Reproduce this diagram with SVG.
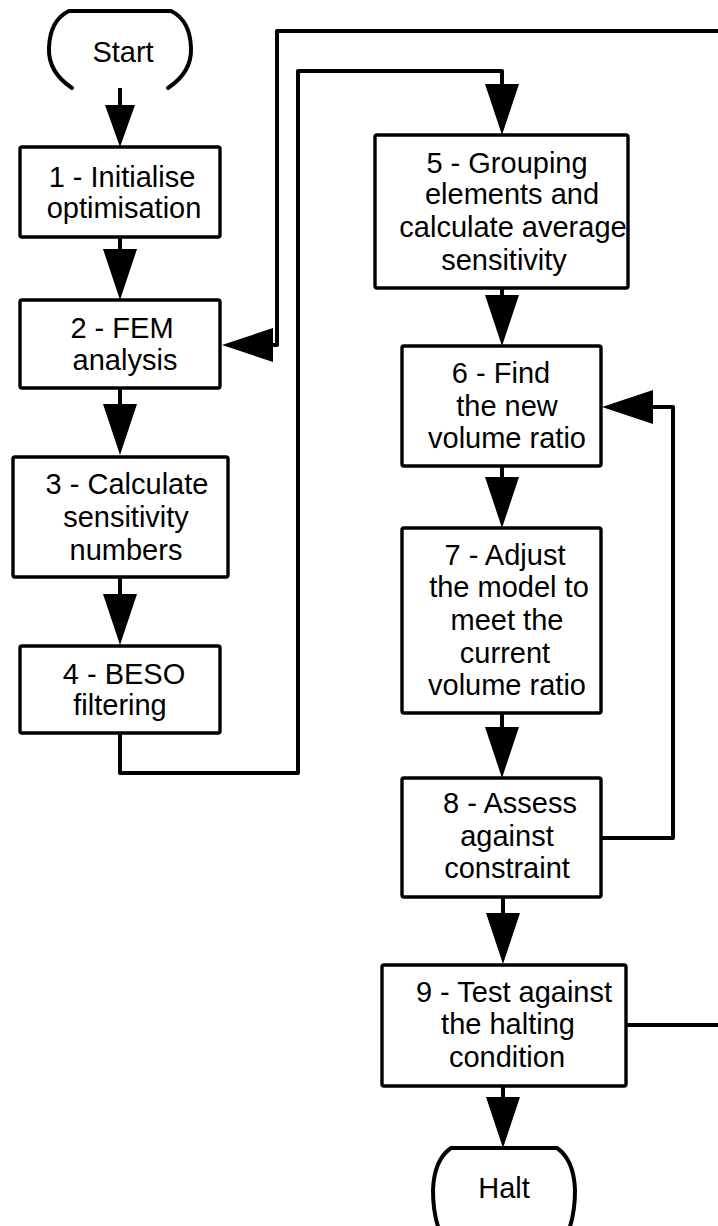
<svg xmlns="http://www.w3.org/2000/svg" width="718" height="1226" viewBox="0 0 718 1226">
<style>
.box{fill:#fff;stroke:#000;stroke-width:3.4}
.term{fill:none;stroke:#000;stroke-width:4;stroke-linecap:round;stroke-linejoin:round}
.lbl{font-family:"Liberation Sans",Arial,sans-serif;font-size:29px;fill:#000;text-anchor:middle}
.con{fill:none;stroke:#000;stroke-width:4;stroke-linejoin:round}
</style>
<defs>
<marker id="ah" markerUnits="userSpaceOnUse" markerWidth="52" markerHeight="36" refX="0" refY="17" orient="auto" overflow="visible">
<path d="M0,0 L51,17 L0,34 Z" fill="#000"/>
</marker>
<marker id="ahs" markerUnits="userSpaceOnUse" markerWidth="44" markerHeight="32" refX="0" refY="15" orient="auto" overflow="visible">
<path d="M0,0 L42,15 L0,30 Z" fill="#000"/>
</marker>
</defs>
<g id="connectors">
<path class="con" d="M120,88 L120,105" marker-end="url(#ahs)"/>
<path class="con" d="M120,237 L120,249" marker-end="url(#ah)"/>
<path class="con" d="M120,388 L120,404" marker-end="url(#ah)"/>
<path class="con" d="M120,577 L120,594" marker-end="url(#ah)"/>
<path class="con" d="M120,733 L120,773 L298,773 L298,71 L502,71 L502,84" marker-end="url(#ah)"/>
<path class="con" d="M502,288 L502,295" marker-end="url(#ah)"/>
<path class="con" d="M502,466 L502,477" marker-end="url(#ah)"/>
<path class="con" d="M502,713 L502,727" marker-end="url(#ah)"/>
<path class="con" d="M503,897 L503,913" marker-end="url(#ah)"/>
<path class="con" d="M503,1086 L503,1097" marker-end="url(#ah)"/>
<path class="con" d="M601,838 L673,838 L673,407 L653,407" marker-end="url(#ah)"/>
<path class="con" d="M626,1025 L740,1025 L740,31 L277,31 L277,345 L273,345" marker-end="url(#ah)"/>
</g>
<g id="start">
<path class="term" d="M72,88 Q48,72 49,48 Q50,20 69,11 L171,11 Q190,20 191,48 Q192,72 168,88"/>
<text class="lbl" x="123" y="62">Start</text>
</g>
<g id="n1">
<rect class="box" x="20" y="147" width="200" height="90" rx="2"/>
<text class="lbl"><tspan x="122" y="187">1 - Initialise</tspan><tspan x="124" y="218">optimisation</tspan></text>
</g>
<g id="n2">
<rect class="box" x="20" y="300" width="200" height="88" rx="2"/>
<text class="lbl"><tspan x="122" y="338">2 - FEM</tspan><tspan x="125" y="370">analysis</tspan></text>
</g>
<g id="n3">
<rect class="box" x="13" y="457" width="215" height="120" rx="2"/>
<text class="lbl"><tspan x="127" y="494">3 - Calculate</tspan><tspan x="126" y="527">sensitivity</tspan><tspan x="126" y="560">numbers</tspan></text>
</g>
<g id="n4">
<rect class="box" x="20" y="646" width="200" height="87" rx="2"/>
<text class="lbl"><tspan x="124" y="684">4 - BESO</tspan><tspan x="120" y="715">filtering</tspan></text>
</g>
<g id="n5">
<rect class="box" x="375" y="135" width="253" height="153" rx="2"/>
<text class="lbl"><tspan x="507" y="173">5 - Grouping</tspan><tspan x="512" y="204">elements and</tspan><tspan x="513" y="237">calculate average</tspan><tspan x="504" y="270">sensitivity</tspan></text>
</g>
<g id="n6">
<rect class="box" x="402" y="346" width="199" height="120" rx="2"/>
<text class="lbl"><tspan x="501" y="383">6 - Find</tspan><tspan x="507" y="416">the new</tspan><tspan x="507" y="448">volume ratio</tspan></text>
</g>
<g id="n7">
<rect class="box" x="402" y="528" width="199" height="185" rx="2"/>
<text class="lbl"><tspan x="505" y="565">7 - Adjust</tspan><tspan x="509" y="597">the model to</tspan><tspan x="507" y="630">meet the</tspan><tspan x="505" y="663">current</tspan><tspan x="507" y="695">volume ratio</tspan></text>
</g>
<g id="n8">
<rect class="box" x="402" y="778" width="199" height="119" rx="2"/>
<text class="lbl"><tspan x="510" y="813">8 - Assess</tspan><tspan x="507" y="846">against</tspan><tspan x="507" y="878">constraint</tspan></text>
</g>
<g id="n9">
<rect class="box" x="382" y="965" width="244" height="121" rx="2"/>
<text class="lbl"><tspan x="514" y="1002">9 - Test against</tspan><tspan x="508" y="1034">the halting</tspan><tspan x="507" y="1067">condition</tspan></text>
</g>
<g id="halt">
<path class="term" d="M440,1232 Q433,1215 433,1190 Q434,1160 451,1148 L557,1148 Q574,1160 575,1190 Q575,1215 568,1232"/>
<text class="lbl" x="504" y="1198">Halt</text>
</g>
</svg>
